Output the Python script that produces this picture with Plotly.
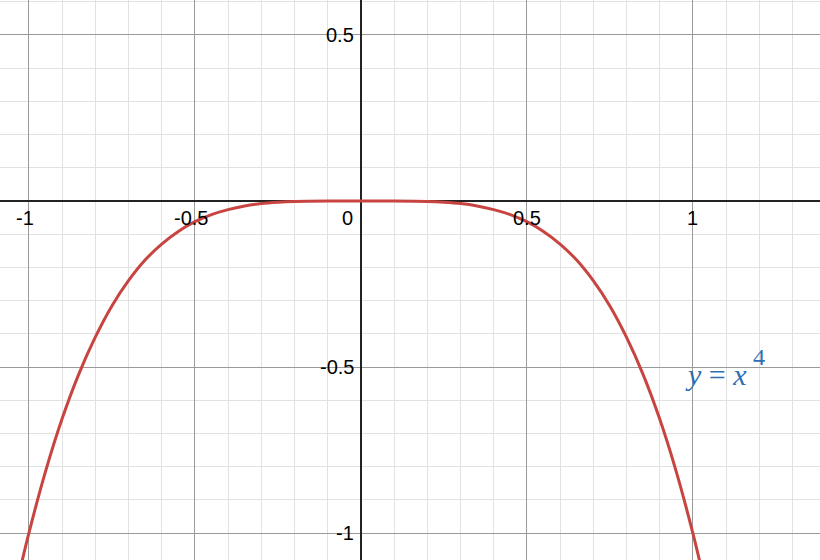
import plotly.graph_objects as go

curve_x = [-1.03, -1.0, -0.95, -0.9, -0.85, -0.8, -0.75, -0.7, -0.65, -0.6, -0.55, -0.5,
           -0.45, -0.4, -0.35, -0.3, -0.25, -0.2, -0.1, 0.0, 0.1, 0.2, 0.25, 0.3, 0.35,
           0.4, 0.45, 0.5, 0.55, 0.6, 0.65, 0.7, 0.75, 0.8, 0.85, 0.9, 0.95, 1.0, 1.03]
curve_y = [-1.125, -1.0, -0.815, -0.656, -0.522, -0.41, -0.316, -0.24, -0.178, -0.13, -0.092, -0.0625,
           -0.041, -0.026, -0.015, -0.008, -0.004, -0.0016, -0.0001, 0.0, -0.0001, -0.0016, -0.004, -0.008, -0.015,
           -0.026, -0.041, -0.0625, -0.092, -0.13, -0.178, -0.24, -0.316, -0.41, -0.522, -0.656, -0.815, -1.0, -1.125]

x_ticks = [-1, -0.5, 0.5, 1]
x_tick_text = ["-1", "-0.5", "0.5", "1"]
y_ticks = [0.5, -0.5, -1]
y_tick_text = ["0.5", "-0.5", "-1"]

fig = go.Figure()
fig.add_trace(go.Scatter(
    x=curve_x, y=curve_y, mode="lines",
    line=dict(color="#c74440", width=3, shape="spline"),
    hoverinfo="skip", showlegend=False,
))

tick_font = dict(family="Liberation Sans, Arial", size=20, color="black")
annotations = []
for v, t in zip(x_ticks, x_tick_text):
    annotations.append(dict(x=v, y=0, xref="x", yref="y", text=t, showarrow=False,
                            xanchor="center", yanchor="top", yshift=-4,
                            xshift=-4 if v < 0 else 0, font=tick_font))
annotations.append(dict(x=0, y=0, xref="x", yref="y", text="0", showarrow=False,
                        xanchor="right", yanchor="top", xshift=-6, yshift=-4, font=tick_font))
for v, t in zip(y_ticks, y_tick_text):
    annotations.append(dict(x=0, y=v, xref="x", yref="y", text=t, showarrow=False,
                            xanchor="right", yanchor="middle", xshift=-5, font=tick_font))

# curve label
label_font = dict(family="Liberation Serif, Times New Roman", size=30, color="#2d70b3")
annotations.append(dict(x=0.97, y=-0.524, xref="x", yref="y", xanchor="left", yanchor="middle",
                        text="<i>y</i> = <i>x</i>", showarrow=False, font=label_font))
annotations.append(dict(x=1.176, y=-0.47, xref="x", yref="y", xanchor="left", yanchor="middle",
                        text="4", showarrow=False,
                        font=dict(family="Liberation Serif, Times New Roman", size=24, color="#2d70b3")))

axis_common = dict(
    showgrid=True, gridcolor="#9a9a9a", gridwidth=1, dtick=0.5, tick0=0,
    minor=dict(showgrid=True, gridcolor="#e2e2e2", gridwidth=1, dtick=0.1),
    zeroline=True, zerolinecolor="#222222", zerolinewidth=2,
    showticklabels=False, ticks="", showline=False, fixedrange=True,
)

fig.update_layout(
    width=820, height=560,
    margin=dict(l=0, r=0, t=0, b=0),
    plot_bgcolor="white", paper_bgcolor="white",
    xaxis=dict(range=[-1.087, 1.383], **axis_common),
    yaxis=dict(range=[-1.081, 0.605], **axis_common),
    annotations=annotations,
)

fig.write_html("out.html", config={"displayModeBar": False},
               post_script="document.body.style.margin='0';")
